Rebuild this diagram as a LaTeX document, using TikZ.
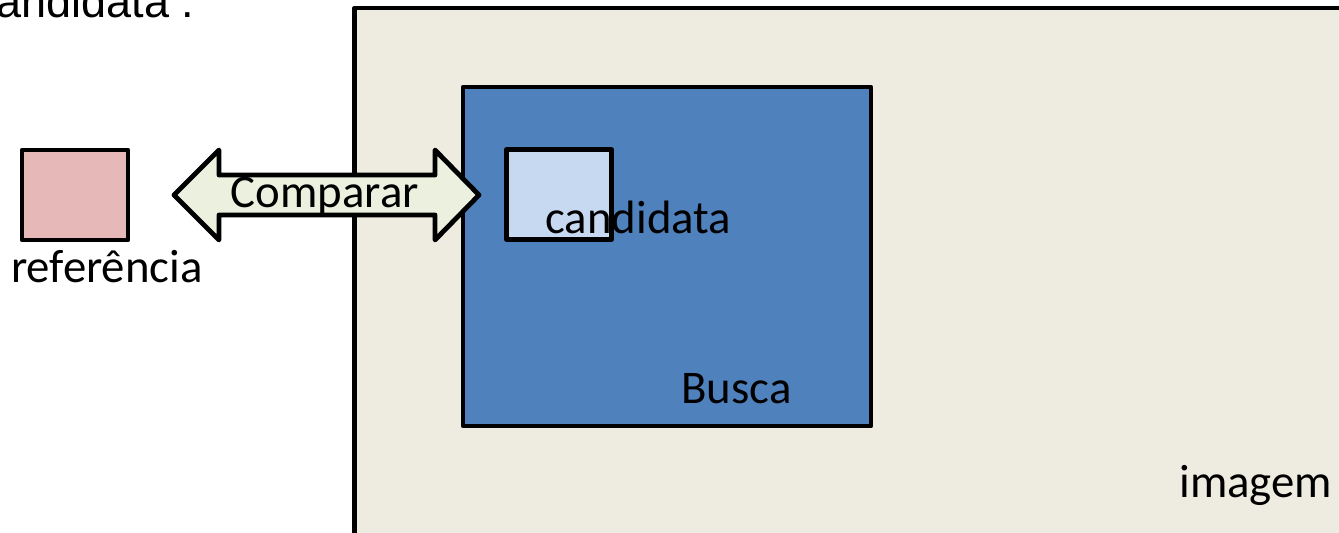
\documentclass[tikz,border=0pt]{standalone}
\usepackage{fontspec}
\setmainfont{Carlito}
\newfontfamily\arialf{Liberation Sans}
\definecolor{bgimg}{HTML}{EEECE1}
\definecolor{busca}{HTML}{4F81BD}
\definecolor{cand}{HTML}{C6D9F1}
\definecolor{refc}{HTML}{E6B9B8}
\definecolor{arrowc}{HTML}{EBF1DE}
\tikzset{
  box/.style={draw=black, line width=2.4pt, line join=round},
  lbl/.style={inner sep=0pt, anchor=base west, font=\fontsize{23.4}{27}\selectfont},
}
\begin{document}
\begin{tikzpicture}[x=0.5pt, y=-0.5pt]
\useasboundingbox (0,0) rectangle (1339,532);
% top-left cut text
\node[inner sep=0pt, anchor=base west, font=\arialf\fontsize{22.5}{26}\selectfont] (toptxt) at (-4,17) {andidata .};
% reference box
\draw[box, fill=refc] (22,150) rectangle (128,240);
\coordinate (refbox) at (75,195);
\node[lbl, anchor=base] (reflbl) at (107,282) {referência};
% image area
\draw[box, fill=bgimg] (354.5,8) rectangle (1360,560);
% search area
\draw[box, fill=busca] (463,87) rectangle (871,426);
% compare arrow
\draw[box, fill=arrowc] (174,195) -- (219,150) -- (219,175) -- (435,175) -- (435,150)
  -- (479,195) -- (435,240) -- (435,215) -- (219,215) -- (219,240) -- cycle;
\node[lbl, anchor=base] (cmp) at (325,207) {Comparar};
% candidate box
\draw[box, fill=cand] (506.5,149.5) rectangle (611.5,239.5);
\node[lbl] (candlbl) at (545,233) {candidata};
\node[lbl] (busclbl) at (681,403) {Busca};
\node[lbl] (imglbl) at (1179,497) {imagem};
\end{tikzpicture}
\end{document}
